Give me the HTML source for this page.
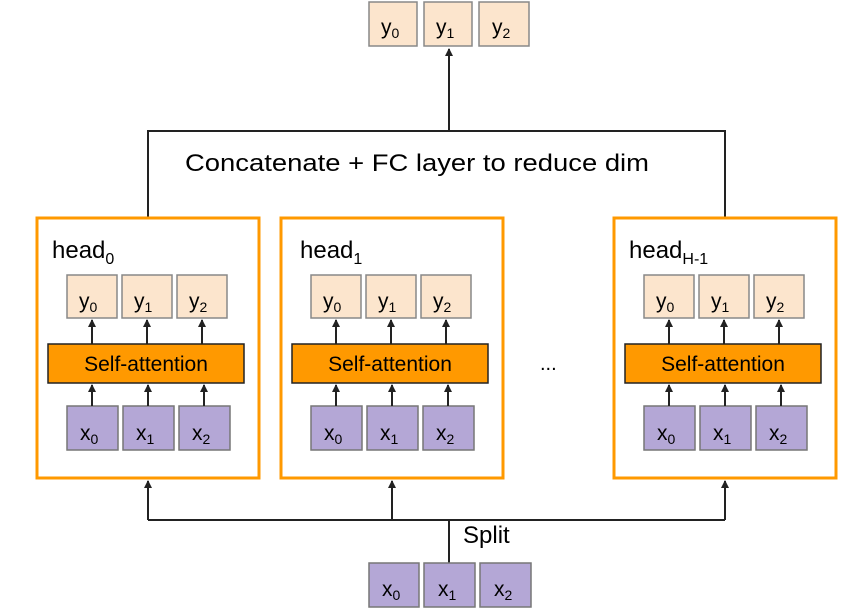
<!DOCTYPE html>
<html><head><meta charset="utf-8"><style>
html,body{margin:0;padding:0;background:#fff;}
svg{display:block;font-family:"Liberation Sans",Arial,sans-serif;}
</style></head><body>
<svg width="845" height="614" viewBox="0 0 845 614" xmlns="http://www.w3.org/2000/svg">
<defs>
<marker id="a" markerWidth="8" markerHeight="8" refX="7" refY="4" orient="auto" markerUnits="userSpaceOnUse" viewBox="0 0 8 8">
<path d="M0,0 L8,4 L0,8 z" fill="#222"/></marker>
<g id="yb">
<rect x="0" y="0" width="50" height="43" fill="#fce5cd" stroke="#888" stroke-width="1.5"/>
</g>
<g id="xb">
<rect x="0" y="0" width="51" height="44" fill="#b4a7d6" stroke="#777" stroke-width="1.5"/>
</g>
<g id="head">
<rect x="0" y="0" width="222" height="260" fill="#fff" stroke="#ff9900" stroke-width="3"/>
<use href="#yb" x="30" y="57"/><use href="#yb" x="85" y="57"/><use href="#yb" x="140" y="57"/>
<text font-size="21" y="90"><tspan x="42">y</tspan><tspan font-size="14" dy="4">0</tspan></text>
<text font-size="21" y="90"><tspan x="97">y</tspan><tspan font-size="14" dy="4">1</tspan></text>
<text font-size="21" y="90"><tspan x="152">y</tspan><tspan font-size="14" dy="4">2</tspan></text>
<rect x="11" y="126" width="196" height="39" fill="#ff9900" stroke="#222" stroke-width="1.5"/>
<text x="109" y="153" font-size="21" text-anchor="middle">Self-attention</text>
<use href="#xb" x="30" y="188"/><use href="#xb" x="86" y="188"/><use href="#xb" x="142" y="188"/>
<text font-size="21" y="222"><tspan x="43">x</tspan><tspan font-size="14" dy="4">0</tspan></text>
<text font-size="21" y="222"><tspan x="99">x</tspan><tspan font-size="14" dy="4">1</tspan></text>
<text font-size="21" y="222"><tspan x="155">x</tspan><tspan font-size="14" dy="4">2</tspan></text>
<g stroke="#222" stroke-width="2" marker-end="url(#a)">
<line x1="55" y1="126" x2="55" y2="102"/><line x1="110" y1="126" x2="110" y2="102"/><line x1="165" y1="126" x2="165" y2="102"/>
<line x1="55" y1="188" x2="55" y2="167"/><line x1="111" y1="188" x2="111" y2="167"/><line x1="167" y1="188" x2="167" y2="167"/>
</g>
</g>
</defs>
<!-- top outputs -->
<rect x="369" y="2" width="48" height="44" fill="#fce5cd" stroke="#888" stroke-width="1.5"/>
<rect x="424" y="2" width="48" height="44" fill="#fce5cd" stroke="#888" stroke-width="1.5"/>
<rect x="479" y="2" width="50" height="44" fill="#fce5cd" stroke="#888" stroke-width="1.5"/>
<text font-size="21" y="34"><tspan x="381">y</tspan><tspan font-size="14" dy="4">0</tspan></text>
<text font-size="21" y="34"><tspan x="436">y</tspan><tspan font-size="14" dy="4">1</tspan></text>
<text font-size="21" y="34"><tspan x="492">y</tspan><tspan font-size="14" dy="4">2</tspan></text>
<!-- concat lines -->
<g stroke="#222" stroke-width="2" fill="none">
<polyline points="148,217 148,131 725,131 725,217"/>
<line x1="449" y1="131" x2="449" y2="49" marker-end="url(#a)"/>
</g>
<text x="185" y="171" font-size="24" textLength="464" lengthAdjust="spacingAndGlyphs">Concatenate + FC layer to reduce dim</text>
<!-- heads -->
<use href="#head" x="37" y="218"/>
<use href="#head" x="281" y="218"/>
<use href="#head" x="614" y="218"/>
<text font-size="24" y="258"><tspan x="52">head</tspan><tspan font-size="16" dy="6">0</tspan></text>
<text font-size="24" y="258"><tspan x="300">head</tspan><tspan font-size="16" dy="6">1</tspan></text>
<text font-size="24" y="258"><tspan x="629">head</tspan><tspan font-size="16" dy="6">H-1</tspan></text>
<text x="540" y="370" font-size="20">...</text>
<!-- split lines -->
<g stroke="#222" stroke-width="2" fill="none">
<polyline points="148,520 725,520"/>
<line x1="449" y1="563" x2="449" y2="520"/>
<line x1="148" y1="520" x2="148" y2="481" marker-end="url(#a)"/>
<line x1="392" y1="520" x2="392" y2="481" marker-end="url(#a)"/>
<line x1="725" y1="520" x2="725" y2="481" marker-end="url(#a)"/>
</g>
<text x="463" y="543" font-size="24">Split</text>
<rect x="369" y="563" width="50" height="44" fill="#b4a7d6" stroke="#777" stroke-width="1.5"/>
<rect x="424" y="563" width="51" height="44" fill="#b4a7d6" stroke="#777" stroke-width="1.5"/>
<rect x="480" y="563" width="51" height="44" fill="#b4a7d6" stroke="#777" stroke-width="1.5"/>
<text font-size="21" y="596"><tspan x="382">x</tspan><tspan font-size="14" dy="4">0</tspan></text>
<text font-size="21" y="596"><tspan x="438">x</tspan><tspan font-size="14" dy="4">1</tspan></text>
<text font-size="21" y="596"><tspan x="494">x</tspan><tspan font-size="14" dy="4">2</tspan></text>
</svg>
</body></html>
